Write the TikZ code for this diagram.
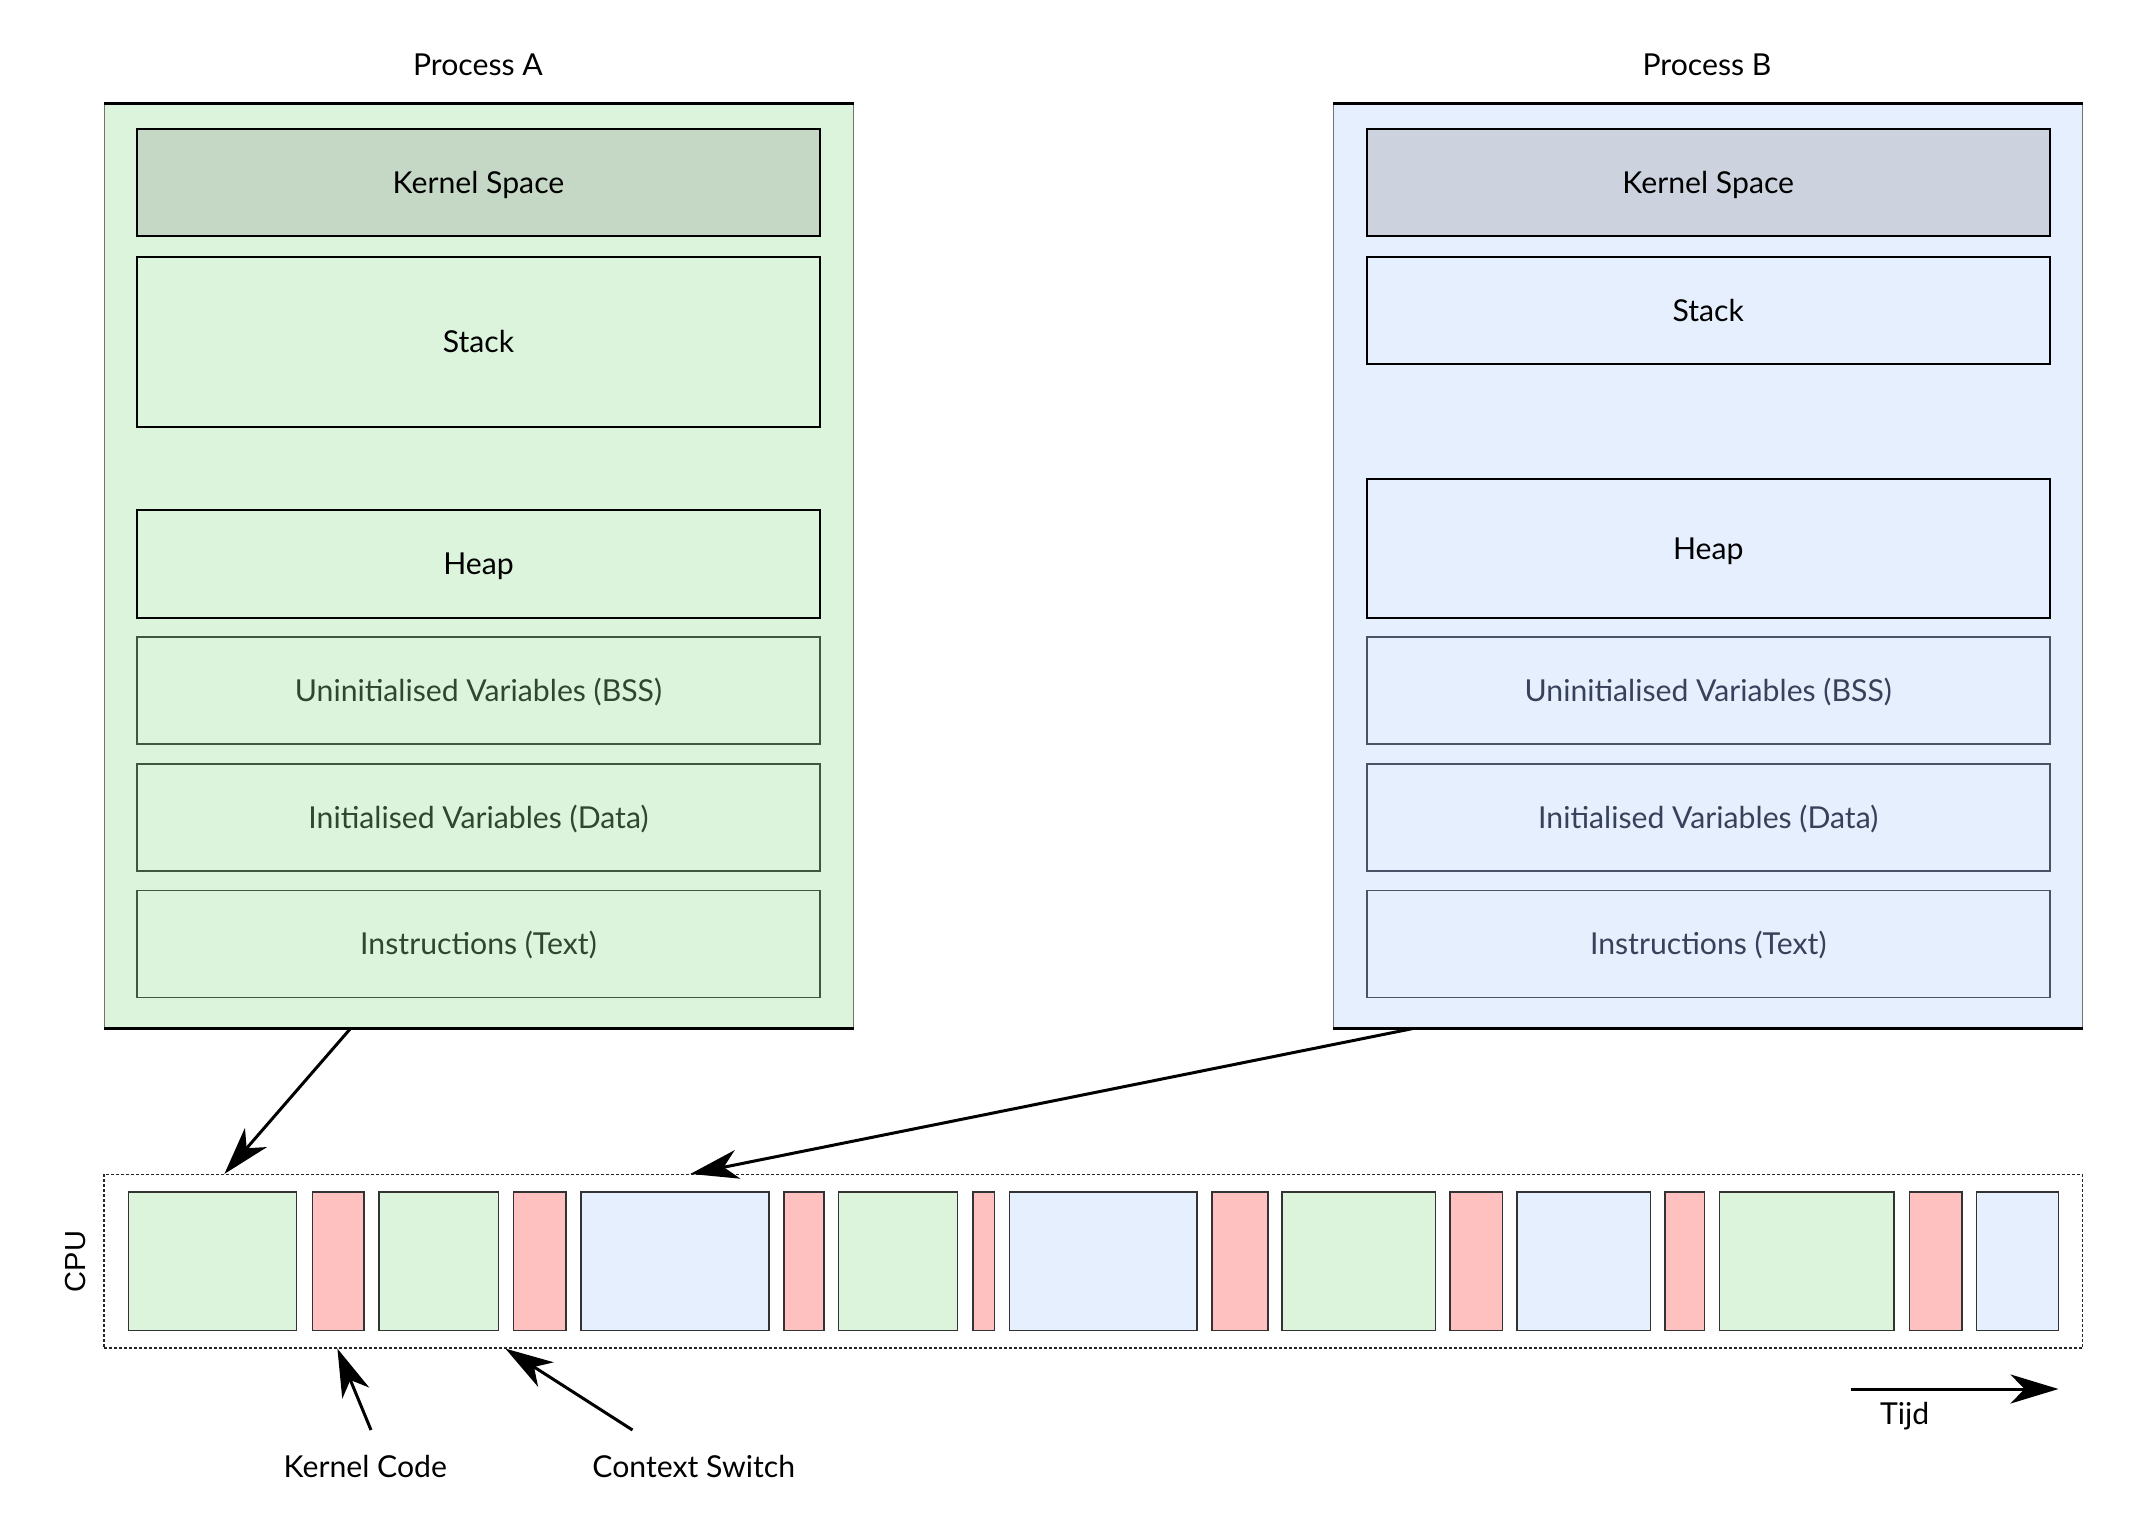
\documentclass[tikz,border=0pt]{standalone}
\usepackage{fontspec}
\setmainfont{Lato}
\newfontfamily\cpufont{Liberation Sans}
\usetikzlibrary{arrows.meta}
\definecolor{gA}{HTML}{DCF4DC}
\definecolor{gK}{HTML}{C5D7C5}
\definecolor{bA}{HTML}{E6EFFD}
\definecolor{bK}{HTML}{CCD3DE}
\definecolor{rK}{HTML}{FFC0C0}
\definecolor{gEdge}{HTML}{3E573E}
\definecolor{gText}{HTML}{2E472E}
\definecolor{bEdge}{HTML}{4A5366}
\definecolor{bText}{HTML}{37415A}
\tikzset{
  txt/.style={font=\fontsize{15.1}{18}\selectfont, text height=12.8pt, text depth=2pt},
  lbl/.style={txt, inner sep=0pt},
  outerbox/.style={draw=black!55, line width=0.5pt, minimum width=374.5pt, minimum height=462pt, inner sep=0pt},
  seg/.style={txt, draw=black, line width=0.75pt, minimum width=341.5pt, inner sep=0pt},
  segA/.style={seg, draw=gEdge, text=gText, fill=gA},
  segB/.style={seg, draw=bEdge, text=bText, fill=bA},
  blk/.style={draw=black!80, line width=0.7pt, minimum height=69.25pt, inner sep=0pt},
  arr/.style={line width=1.5pt, -{Stealth[length=24pt, width=14.5pt, inset=7pt]}},
}
\begin{document}
\begin{tikzpicture}[x=0.5pt, y=-0.5pt]
\useasboundingbox (0,0) rectangle (2154,1521);
% Process A
\node[lbl] (titleA) at (478,65) {Process A};
\node[outerbox, fill=gA] (outerA) at (478.5,566) {};
\draw[line width=1.1pt] (outerA.north west) -- (outerA.north east);
\draw[line width=1.1pt] (outerA.south west) -- (outerA.south east);
\node[seg, fill=gK, minimum height=53.5pt] (kernA) at (478.5,182.5) {Kernel Space};
\node[seg, fill=gA, minimum height=85pt] (stackA) at (478.5,342) {Stack};
\node[seg, fill=gA, minimum height=54pt] (heapA) at (478.5,564) {Heap};
\node[segA, minimum height=53.5pt] (bssA) at (478.5,690.5) {Uninitialised Variables (BSS)};
\node[segA, minimum height=53.5pt] (dataA) at (478.5,817.5) {Initialised Variables (Data)};
\node[segA, minimum height=53.5pt] (textA) at (478.5,944) {Instructions (Text)};
% Process B
\node[lbl] (titleB) at (1707,65) {Process B};
\node[outerbox, fill=bA] (outerB) at (1708,566) {};
\draw[line width=1.1pt] (outerB.north west) -- (outerB.north east);
\draw[line width=1.1pt] (outerB.south west) -- (outerB.south east);
\node[seg, fill=bK, minimum height=53.5pt] (kernB) at (1708.25,182.5) {Kernel Space};
\node[seg, fill=bA, minimum height=53.5pt] (stackB) at (1708.25,310.5) {Stack};
\node[seg, fill=bA, minimum height=69.5pt] (heapB) at (1708.25,548.5) {Heap};
\node[segB, minimum height=53.5pt] (bssB) at (1708.25,690.5) {Uninitialised Variables (BSS)};
\node[segB, minimum height=53.5pt] (dataB) at (1708.25,817.5) {Initialised Variables (Data)};
\node[segB, minimum height=53.5pt] (textB) at (1708.25,944) {Instructions (Text)};
% CPU
\node[draw=black!85, line width=0.6pt, dash pattern=on 1.5pt off 1pt, minimum width=989.25pt, minimum height=86.75pt, inner sep=0pt] (cpu) at (1093.25,1261.25) {};
\node[font=\cpufont\fontsize{14.5}{17}\selectfont, text height=10.4pt, text depth=0pt, rotate=90, inner sep=0pt] (cpulbl) at (75,1261.5) {CPU};
\foreach \i/\a/\b/\c in {1/128.4/296.7/gA, 2/312.2/364/rK, 3/379/498.6/gA, 4/513.7/566/rK,
  5/581/768.8/bA, 6/784/823.8/rK, 7/838.4/957.4/gA, 8/973/994.2/rK, 9/1009.4/1197/bA,
  10/1212/1268/rK, 11/1282/1435.5/gA, 12/1450/1502.5/rK, 13/1517/1650.3/bA, 14/1665/1704.7/rK,
  15/1719.5/1894/gA, 16/1909.2/1962/rK, 17/1976.7/2058.2/bA}{
  \pgfmathsetmacro{\w}{(\b-\a)/2}
  \pgfmathsetmacro{\m}{(\a+\b)/2}
  \node[blk, fill=\c, minimum width=\w pt] (b\i) at (\m,1261.25) {};
}
% arrows from processes
\draw[arr] ([xshift=123.5pt]outerA.south west) -- ([xshift=60.5pt]cpu.north west);
\draw[arr] ([xshift=40pt]outerB.south west) -- ([xshift=293.5pt]cpu.north west);
% labels below
\node[lbl] (kcode) at (365.4,1467) {Kernel Code};
\node[lbl] (cswitch) at (693.7,1467) {Context Switch};
\coordinate (kcs) at (371,1430);
\coordinate (css) at (632.5,1430);
\draw[arr] (kcs) -- ([xshift=117pt]cpu.south west);
\draw[arr] (css) -- ([xshift=201pt]cpu.south west);
% time
\coordinate (t0) at (1851,1389);
\coordinate (t1) at (2058.5,1389);
\draw[arr] (t0) -- (t1);
\node[lbl] (tijd) at (1904.6,1414) {Tijd};
\end{tikzpicture}
\end{document}
